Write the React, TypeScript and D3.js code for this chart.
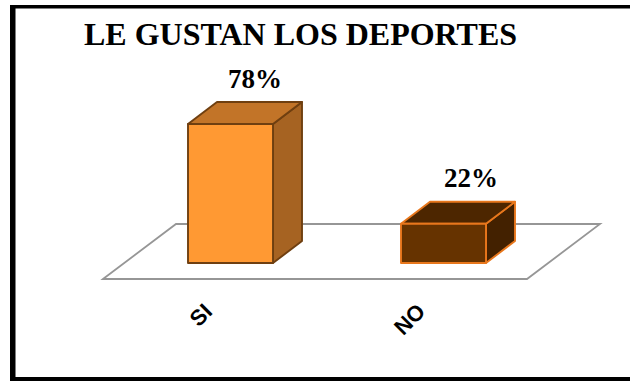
import React from "react";
import * as d3 from "d3";

const categories = ["SI", "NO"];
const percentages = [78, 22];
const titleText = "LE GUSTAN LOS DEPORTES";

const fills = [
  { front: "#ff9933", top: "#c27428", side: "#a66322", stroke: "#6f3f10" },
  { front: "#663300", top: "#4d2600", side: "#432100", stroke: "#e8771c" },
];

const WIDTH = 630;
const HEIGHT = 381;
const DEPTH_X = 29;
const DEPTH_Y = -22;
const BAR_WIDTH = 85;
const FLOOR_Y = 263;
const LABEL_SHIFT = [24.5, 27.5];

// Bars sit in equal category bands along the front of the oblique floor.
const xScale = d3.scaleBand<string>().domain(categories).range([124, 550]);
const yScale = d3.scaleLinear().domain([0, 78]).range([FLOOR_Y, 124]);

const polygon = (pts: [number, number][]) => {
  const line = d3.line().curve(d3.curveLinearClosed);
  return line(pts) ?? "";
};

export default function App() {
  const floor: [number, number][] = [
    [103, 279],
    [176, 224],
    [600, 224],
    [527, 279],
  ];

  return (
    <svg
      width={WIDTH}
      height={HEIGHT}
      viewBox={`0 0 ${WIDTH} ${HEIGHT}`}
      style={{ position: "absolute", left: 0, top: 0, background: "#fff" }}
    >
      {/* Frame: left, top and bottom rules, open on the right edge */}
      <rect x={10} y={5} width={620} height={3.5} fill="#000" />
      <rect x={10} y={5} width={5.5} height={376} fill="#000" />
      <rect x={10} y={377} width={620} height={4} fill="#000" />
      <path d={polygon(floor)} fill="#fff" stroke="#969696" strokeWidth={1.8} />
      <text
        x={300.5}
        y={44.5}
        textAnchor="middle"
        fontFamily="'Liberation Serif', serif"
        fontWeight="bold"
        fontSize={32}
        fill="#000"
      >
        {titleText}
      </text>
      {categories.map((cat, i) => {
        const x0 = (xScale(cat) ?? 0) + (xScale.bandwidth() - BAR_WIDTH) / 2;
        const x1 = x0 + BAR_WIDTH;
        const yTop = yScale(percentages[i]);
        const c = fills[i];
        const topFace: [number, number][] = [
          [x0, yTop],
          [x0 + DEPTH_X, yTop + DEPTH_Y],
          [x1 + DEPTH_X, yTop + DEPTH_Y],
          [x1, yTop],
        ];
        const sideFace: [number, number][] = [
          [x1, yTop],
          [x1 + DEPTH_X, yTop + DEPTH_Y],
          [x1 + DEPTH_X, FLOOR_Y + DEPTH_Y],
          [x1, FLOOR_Y],
        ];
        const frontFace: [number, number][] = [
          [x0, yTop],
          [x1, yTop],
          [x1, FLOOR_Y],
          [x0, FLOOR_Y],
        ];
        const cx = x0 + BAR_WIDTH / 2;
        return (
          <g key={cat}>
            <path d={polygon(sideFace)} fill={c.side} stroke={c.stroke} strokeWidth={1.9} strokeLinejoin="round" />
            <path d={polygon(topFace)} fill={c.top} stroke={c.stroke} strokeWidth={1.9} strokeLinejoin="round" />
            <path d={polygon(frontFace)} fill={c.front} stroke={c.stroke} strokeWidth={1.9} strokeLinejoin="round" />
            <text
              x={cx + LABEL_SHIFT[i]}
              y={yTop + DEPTH_Y - 14.5}
              textAnchor="middle"
              fontFamily="'Liberation Serif', serif"
              fontWeight="bold"
              fontSize={27}
              fill="#000"
            >
              {`${percentages[i]}%`}
            </text>
            <text
              transform={`translate(${cx - 17},${FLOOR_Y + 50}) rotate(-45)`}
              textAnchor="end"
              fontFamily="'Liberation Sans', sans-serif"
              fontWeight="bold"
              fontSize={22}
              fill="#000"
            >
              {cat}
            </text>
          </g>
        );
      })}
    </svg>
  );
}
